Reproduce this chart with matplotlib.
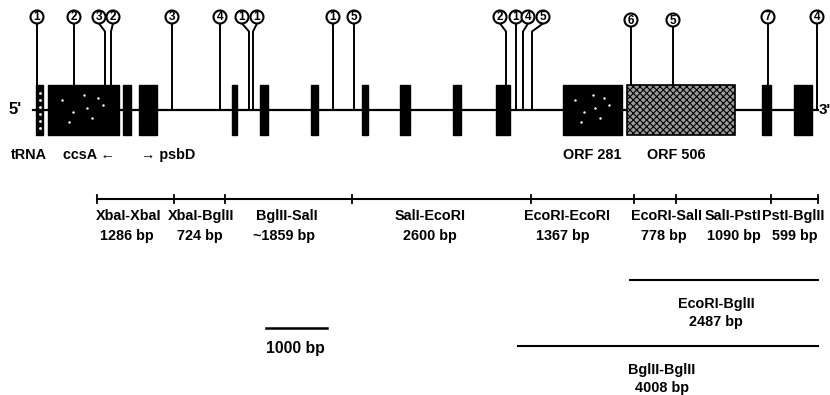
import matplotlib
matplotlib.use("Agg")
import matplotlib.pyplot as plt
from matplotlib.patches import Rectangle, Circle

plt.rcParams['font.family'] = ['Liberation Sans', 'DejaVu Sans']
plt.rcParams['font.weight'] = 'bold'
plt.rcParams['hatch.linewidth'] = 0.8

# gene map (map units, left to right)
block_start = [36, 48, 123, 139, 232, 260, 311, 362, 400, 453, 496, 563, 627, 762, 794]
block_end = [43, 119, 131, 157, 237, 268, 318, 368, 410, 461, 510, 622, 735, 771, 812]
block_kind = ['trna', 'speck', 'solid', 'solid', 'solid', 'solid', 'solid', 'solid',
              'solid', 'solid', 'solid', 'speck', 'stipple', 'solid', 'solid']

# numbered sites: position on map, label position, number, sits on a block?
site_pos = [37, 74, 105, 111, 172, 220, 249, 253, 333, 354, 506, 516, 523, 532, 631, 673, 768, 817]
site_lab = [37, 74, 99, 113, 172, 220, 242, 257, 333, 354, 500, 516, 528, 543, 631, 673, 768, 817]
site_num = ['1', '2', '3', '2', '3', '4', '1', '1', '1', '5', '2', '1', '4', '5', '6', '5', '7', '4']
site_on_block = [1, 1, 1, 1, 0, 0, 0, 0, 0, 0, 1, 0, 0, 0, 1, 1, 1, 0]

gene_names = ['tRNA', 'ccsA \u2190', '\u2192 psbD', 'ORF 281', 'ORF 506']
gene_name_x = [29, 89, 168, 592, 676]

# restriction fragments
cut_sites = [97, 174, 225, 352, 531, 634, 676, 771, 818]
frag_names = ['XbaI-XbaI', 'XbaI-BglII', 'BglII-SalI', 'SalI-EcoRI', 'EcoRI-EcoRI',
              'EcoRI-SalI', 'SalI-PstI', 'PstI-BglII']
frag_sizes = ['1286 bp', '724 bp', '~1859 bp', '2600 bp', '1367 bp', '778 bp', '1090 bp', '599 bp']
frag_name_x = [129, 201, 287, 430, 567, 666, 733, 793]
frag_size_x = [127, 200, 284, 430, 563, 664, 734, 795]

big_names = ['EcoRI-BglII', 'BglII-BglII']
big_sizes = ['2487 bp', '4008 bp']
big_start = [630, 518]
big_end = [818, 818]
big_label_x = [716, 662]
scale_bar = (266, 327)

fig = plt.figure(figsize=(8.3, 3.95), dpi=100)
ax = fig.add_axes([0, 0, 1, 1])
ax.set_xlim(0, 830)
ax.set_ylim(395, 0)
ax.axis('off')

fs = 10.4
line_y = 110
top, bot = 85, 135

ax.plot([33, 818], [line_y, line_y], color='black', lw=1.6, zorder=1)
ax.text(9, line_y, "5'", fontsize=12, va='center', ha='left')
ax.text(819, line_y, "3'", fontsize=11, va='center', ha='left')

for s, e, k in zip(block_start, block_end, block_kind):
    if k == 'stipple':
        ax.add_patch(Rectangle((s, top), e - s, bot - top, facecolor='#9a9a9a',
                               edgecolor='black', hatch='xxxxx', lw=1.2, zorder=2))
    else:
        ax.add_patch(Rectangle((s, top), e - s, bot - top, facecolor='black',
                               edgecolor='black', lw=1, zorder=2))
        if k == 'trna':
            ax.plot([(s + e) / 2] * 6, [93, 100, 107, 114, 121, 128], ls='none',
                    marker='.', ms=2, color='white', zorder=3)
        if k == 'speck':
            w = e - s
            xs = [s + w * f for f in (0.2, 0.35, 0.5, 0.62, 0.78, 0.3, 0.55, 0.7)]
            ys = [100, 112, 95, 118, 105, 122, 108, 98]
            ax.plot(xs, ys, ls='none', marker='.', ms=1.5, color='white', zorder=3)

for p, lx, n, b in zip(site_pos, site_lab, site_num, site_on_block):
    cy = 20 if p in (631, 673) else 17
    r = 6.5
    yb = top if b else line_y
    ax.plot([lx, p, p], [cy + r, cy + r + 8, yb], color='black', lw=1.4, zorder=1)
    ax.add_patch(Circle((lx, cy), r, facecolor='white', edgecolor='black', lw=1.5, zorder=4))
    ax.text(lx, cy + 0.5, n, fontsize=8.5, ha='center', va='center', zorder=5)

for name, x in zip(gene_names, gene_name_x):
    ax.text(x, 155, name, fontsize=fs, ha='center', va='center')

# restriction map
ry = 199
ax.plot([cut_sites[0], cut_sites[-1]], [ry, ry], color='black', lw=1.5)
for c in cut_sites:
    ax.plot([c, c], [ry - 4, ry + 4], color='black', lw=1.3)
for nm, sz, nx, sx in zip(frag_names, frag_sizes, frag_name_x, frag_size_x):
    ax.text(nx, 216, nm, fontsize=fs, ha='center', va='center')
    ax.text(sx, 236, sz, fontsize=fs, ha='center', va='center')

for nm, sz, x0, x1, lx, yy in zip(big_names, big_sizes, big_start, big_end, big_label_x, [280, 346]):
    ax.plot([x0, x1], [yy, yy], color='black', lw=1.5)
    ax.text(lx, yy + 24, nm, fontsize=fs, ha='center', va='center')
    ax.text(lx, yy + 42, sz, fontsize=fs, ha='center', va='center')

ax.plot(scale_bar, [328, 328], color='black', lw=1.8)
ax.text(scale_bar[0], 348, '1000 bp', fontsize=fs + 1, ha='left', va='center')

fig.savefig('out.png', dpi=100)
